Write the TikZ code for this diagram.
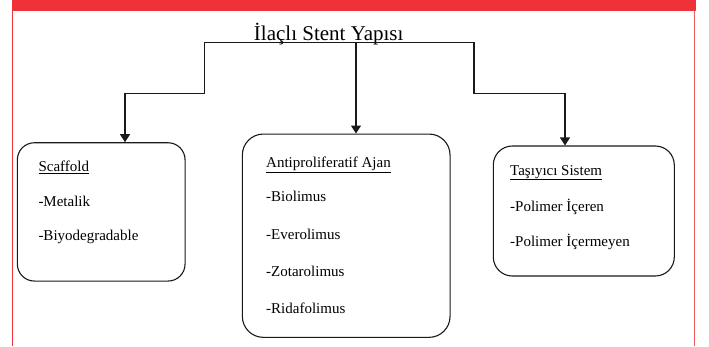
\documentclass[tikz,border=0pt]{standalone}
\usepackage{fontspec}
\setmainfont{Liberation Serif}
\usepackage{xcolor}
\usetikzlibrary{arrows.meta}

\definecolor{bandred}{RGB}{238,50,56}

\begin{document}
\begin{tikzpicture}[
    x=1pt, y=-1pt,
    panel/.style={rectangle, draw=black!90, line width=1.1pt, rounded corners=19pt},
    entry/.style={anchor=base west, inner sep=0pt, font=\rmfamily\fontsize{15}{18}\selectfont},
    link/.style={line width=1.1pt, draw=black!90},
    arrow/.style={-{Triangle[length=8pt, width=10pt]}, line width=1.1pt, draw=black!90}
]
    \useasboundingbox (0,0) rectangle (709,346);

    % red page frame
    \fill[bandred] (12,0) rectangle (696,10.5);
    \draw[bandred, line width=1.3pt] (12.6,10) -- (12.6,346);
    \draw[bandred!80, line width=1.5pt] (694.5,10) -- (694.5,346);

    \node[anchor=base, inner sep=0pt, font=\rmfamily\fontsize{21}{25}\selectfont] (title) at (328.7,40) {İlaçlı Stent Yapısı};

    \node[panel, minimum width=167.7pt, minimum height=138.3pt, rounded corners=17pt] (scaffold) at (101.2,211.9) {};
    \node[panel, minimum width=207.7pt, minimum height=203.3pt, rounded corners=21pt] (agent) at (346.2,235.7) {};
    \node[panel, minimum width=181pt, minimum height=130pt] (carrier) at (583.8,211) {};

    % scaffold
    \node[entry] (scaffoldHead) at (38.3,171.7) {\underline{Scaffold}};
    \node[entry] (metalik) at (38.3,206) {-Metalik};
    \node[entry] (biyo) at (38.3,240) {-Biyodegradable};

    % antiproliferative agent
    \node[entry] (agentHead) at (266,167.3) {\underline{Antiproliferatif Ajan}};
    \node[entry] (biolimus) at (266,201.7) {-Biolimus};
    \node[entry] (everolimus) at (266,239.3) {-Everolimus};
    \node[entry] (zotarolimus) at (266,276.7) {-Zotarolimus};
    \node[entry] (ridafolimus) at (266,313.3) {-Ridafolimus};

    % carrier system
    \node[entry] (carrierHead) at (510,175) {\underline{Taşıyıcı Sistem}};
    \node[entry] (withPoly) at (510,211.7) {-Polimer İçeren};
    \node[entry] (noPoly) at (510,246.7) {-Polimer İçermeyen};

    \coordinate (bracketL) at (204.3,42.3);
    \coordinate (bracketR) at (474,42.3);
    \coordinate (hub) at (356,42.3);
    \coordinate (leftDrop) at (125,93.5);
    \coordinate (rightDrop) at (565,93.5);

    \draw[link] (bracketL) -- (bracketR);
    \draw[arrow] (bracketL) |- (leftDrop) -- (leftDrop |- scaffold.north);
    \draw[arrow] (hub) -- (hub |- agent.north);
    \draw[arrow] (bracketR) |- (rightDrop) -- (rightDrop |- carrier.north);
\end{tikzpicture}
\end{document}
